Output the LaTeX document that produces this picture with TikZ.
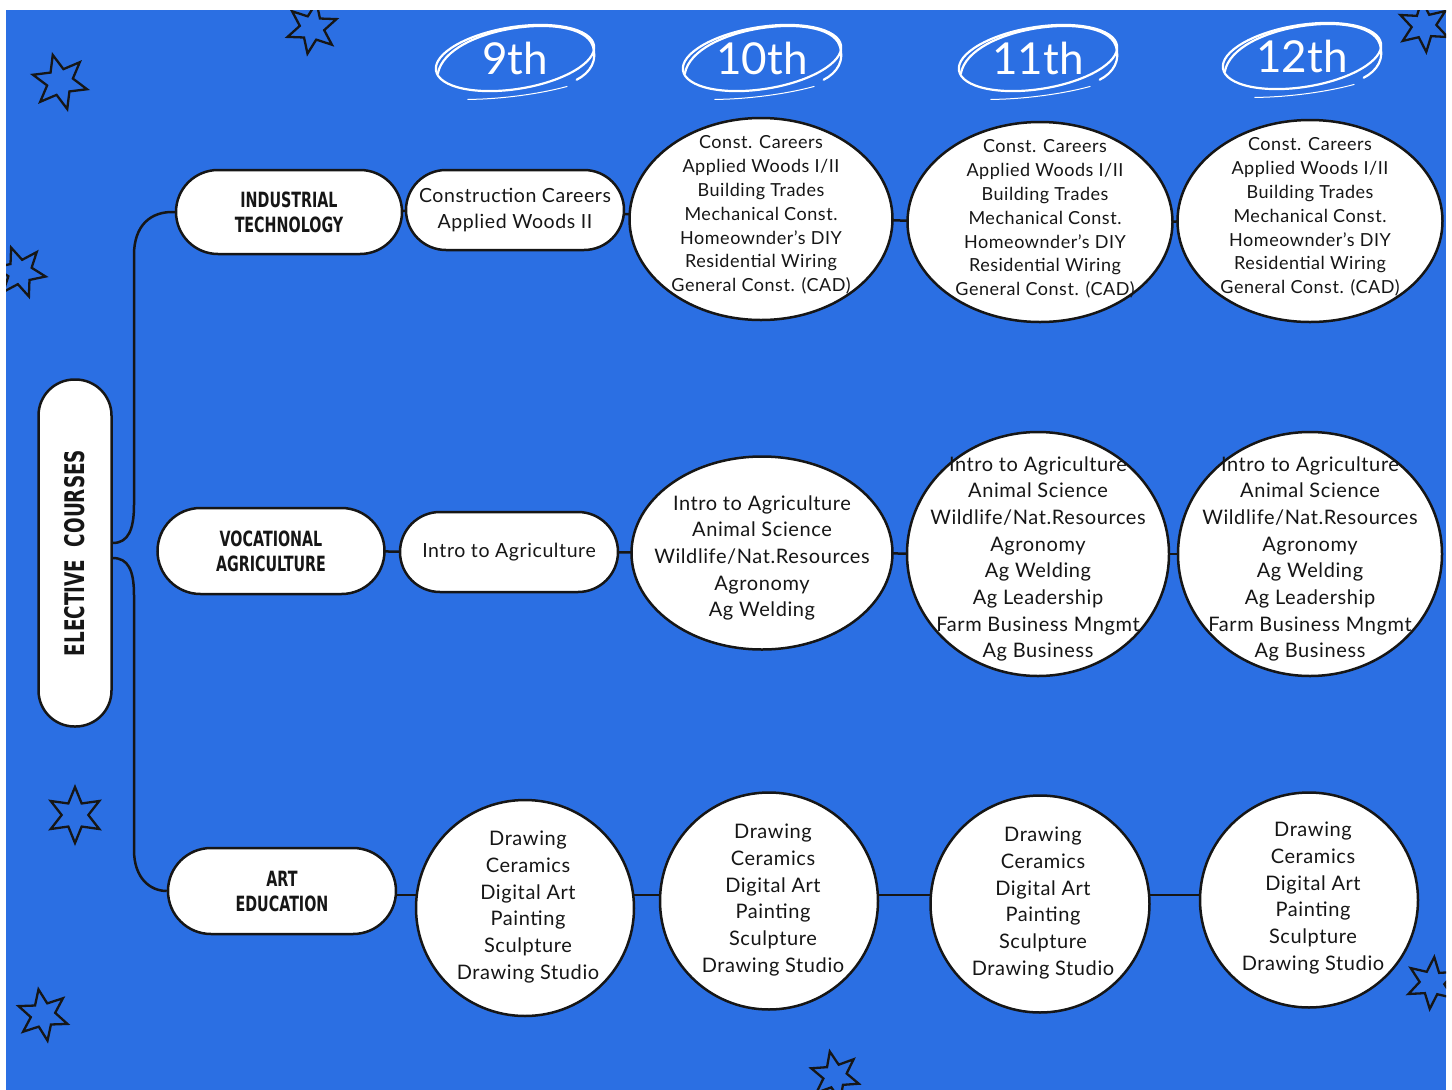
\documentclass[tikz,border=0pt]{standalone}
\usepackage{fontspec}
\setmainfont{Lato}
\newfontfamily\hand{DejaVu Sans}[FakeStretch=0.68]
\newfontfamily\bodyfont{Lato}[LetterSpace=3]
\usetikzlibrary{shapes.geometric,shapes.misc}
\definecolor{bgblue}{RGB}{43,111,227}
\definecolor{ink}{RGB}{22,22,22}
\pgfdeclarelayer{bg}
\pgfsetlayers{bg,main}
\begin{document}
\begin{tikzpicture}[x=1pt,y=-1pt,
 bub/.style={ellipse, draw=ink, fill=white, line width=2.5pt, inner sep=0pt},
 pill/.style={rounded rectangle, draw=ink, fill=white, line width=2.5pt, inner sep=0pt, align=center},
 cat/.style={pill, text=ink, font=\hand\bfseries\fontsize{21}{25}\selectfont},
 txtA/.style={align=center, text=ink, font=\bodyfont\fontsize{18}{23.8}\selectfont},
 txtB/.style={align=center, text=ink, font=\bodyfont\fontsize{20}{26.7}\selectfont},
 link/.style={draw=ink, line width=2.5pt},
 scrib/.style={draw=white, line width=2.2pt, line cap=round},
 hdr/.style={text=white, font=\fontsize{44}{44}\selectfont},
 starx/.style={star, star points=6, star point ratio=2.1, draw=ink, line width=2.3pt, inner sep=0pt}]

\useasboundingbox (0,0) rectangle (1452,1090);
\begin{pgfonlayer}{bg}
\fill[white] (0,0) rectangle (1452,1090);
\fill[bgblue] (6,10) rectangle (1446,1090);
\end{pgfonlayer}

% stars
\begin{scope}
\clip (6,10) rectangle (1446,1090);
\node[starx, minimum size=56pt, rotate=15] (s1) at (60,82) {};
\node[starx, minimum size=52pt, rotate=-10] (s2) at (312,28) {};
\node[starx, minimum size=52pt, rotate=5] (s3) at (1424,26) {};
\node[starx, minimum size=52pt, rotate=20] (s4) at (20,272) {};
\node[starx, minimum size=56pt, rotate=0] (s5) at (75,815) {};
\node[starx, minimum size=52pt, rotate=10] (s6) at (43,1015) {};
\node[starx, minimum size=52pt, rotate=-5] (s7) at (1432,983) {};
\node[starx, minimum size=50pt, rotate=12] (s8) at (835,1076) {};
\end{scope}

% headers
\foreach \cx/\cy/\lab/\nm in {515/58/9th/h9, 762/58/10th/h10, 1038/58/11th/h11, 1302/56/12th/h12}{
  \begin{scope}[shift={(\cx,\cy)}]
    \begin{scope}[rotate=9]
      \draw[scrib] (0,0) ellipse [x radius=80, y radius=31];
    \end{scope}
    \begin{scope}[rotate=4]
      \draw[scrib] (-78,10) .. controls (-66,-36) and (66,-44) .. (78,-8) .. controls (83,8) and (74,20) .. (60,26);
      \draw[white, line width=1pt, line cap=round] (-50,38) .. controls (-20,40) and (20,38) .. (50,32);
    \end{scope}
  \end{scope}
  \node[hdr] (\nm) at (\cx,\cy) {\lab};
}

% elective courses
\node[rectangle, rounded corners=36pt, draw=ink, fill=white, line width=2.5pt,
      minimum width=73pt, minimum height=347pt] (ec) at (75,553) {};
\node[rotate=90, text=ink, font=\hand\bfseries\fontsize{27}{27}\selectfont] (ect) at (ec) {ELECTIVE\ \ COURSES};

% categories
\node[cat, minimum width=226pt, minimum height=84pt] (it) at (289,212) {INDUSTRIAL\\TECHNOLOGY};
\node[cat, minimum width=227pt, minimum height=86pt] (va) at (271,551) {VOCATIONAL\\AGRICULTURE};
\node[cat, minimum width=228pt, minimum height=86pt] (ae) at (282,891) {ART\\EDUCATION};

% row 1
\node[pill, minimum width=218pt, minimum height=80pt, text=ink, font=\bodyfont\fontsize{19.5}{26}\selectfont] (i9) at (515,210) {Construction Careers\\Applied Woods II};
\node[bub, minimum width=263pt, minimum height=202pt] (i10) at (761,219) {};
\node[bub, minimum width=265pt, minimum height=200pt] (i11) at (1040,222) {};
\node[bub, minimum width=265pt, minimum height=202pt] (i12) at (1310,221) {};
\node[txtA] (ti10) at (761,215) {Const. Careers\\Applied Woods I/II\\Building Trades\\Mechanical Const.\\Homeownder’s DIY\\Residential Wiring\\General Const. (CAD)};
\node[txtA] (ti11) at (1045,219) {Const. Careers\\Applied Woods I/II\\Building Trades\\Mechanical Const.\\Homeownder’s DIY\\Residential Wiring\\General Const. (CAD)};
\node[txtA] (ti12) at (1310,217) {Const. Careers\\Applied Woods I/II\\Building Trades\\Mechanical Const.\\Homeownder’s DIY\\Residential Wiring\\General Const. (CAD)};

% row 2
\node[pill, minimum width=218pt, minimum height=80pt, text=ink, font=\bodyfont\fontsize{19.5}{26}\selectfont] (v9) at (509,552) {Intro to Agriculture};
\node[bub, minimum width=261pt, minimum height=193pt] (v10) at (762,553) {};
\node[bub, minimum width=262pt, minimum height=244pt] (v11) at (1038,554) {};
\node[bub, minimum width=264pt, minimum height=244pt] (v12) at (1310,554) {};
\node[txtB] (tv10) at (762,558) {Intro to Agriculture\\Animal Science\\Wildlife/Nat.Resources\\Agronomy\\Ag Welding};
\node[txtB] (tv11) at (1038,559) {Intro to Agriculture\\Animal Science\\Wildlife/Nat.Resources\\Agronomy\\Ag Welding\\Ag Leadership\\Farm Business Mngmt\\Ag Business};
\node[txtB] (tv12) at (1310,559) {Intro to Agriculture\\Animal Science\\Wildlife/Nat.Resources\\Agronomy\\Ag Welding\\Ag Leadership\\Farm Business Mngmt\\Ag Business};

% row 3
\node[bub, minimum width=218pt, minimum height=216pt] (a9) at (525,908) {};
\node[bub, minimum width=218pt, minimum height=217pt] (a10) at (769,901) {};
\node[bub, minimum width=219pt, minimum height=217pt] (a11) at (1040,904) {};
\node[bub, minimum width=218pt, minimum height=215pt] (a12) at (1309,900) {};
\node[txtB] (ta9) at (528,907) {Drawing\\Ceramics\\Digital Art\\Painting\\Sculpture\\Drawing Studio};
\node[txtB] (ta10) at (773,900) {Drawing\\Ceramics\\Digital Art\\Painting\\Sculpture\\Drawing Studio};
\node[txtB] (ta11) at (1043,903) {Drawing\\Ceramics\\Digital Art\\Painting\\Sculpture\\Drawing Studio};
\node[txtB] (ta12) at (1313,898) {Drawing\\Ceramics\\Digital Art\\Painting\\Sculpture\\Drawing Studio};

% connectors
\begin{pgfonlayer}{bg}
\draw[link] (it.center) -- (i9.center);
\draw[link] (i9.center) -- (i10.center);
\draw[link] (i10.center) -- (i11.center);
\draw[link] (i11.center) -- (i12.center);
\draw[link] (va.center) -- (v9.center);
\draw[link] (v9.center) -- (v10.center);
\draw[link] (v10.center) -- (v11.center);
\draw[link] (v11.center) -- (v12.center);
\draw[link] ([yshift=-4pt]ae.center) -- ([yshift=-4pt]ae.center -| a9.center);
\draw[link] ([yshift=-4pt]ae.center -| a9.center) -- ([yshift=-4pt]ae.center -| a12.center);
\draw[link] ([yshift=10pt]ec.east) .. controls (128,543) and (134,530) .. (134,505)
   -- (134,255) .. controls (134,226) and (150,211) .. (it.west);
\draw[link] ([yshift=-5pt]ec.east) .. controls (128,558) and (134,570) .. (134,595)
   -- (134,850) .. controls (134,878) and (150,891) .. (ae.west);
\end{pgfonlayer}
\end{tikzpicture}
\end{document}
